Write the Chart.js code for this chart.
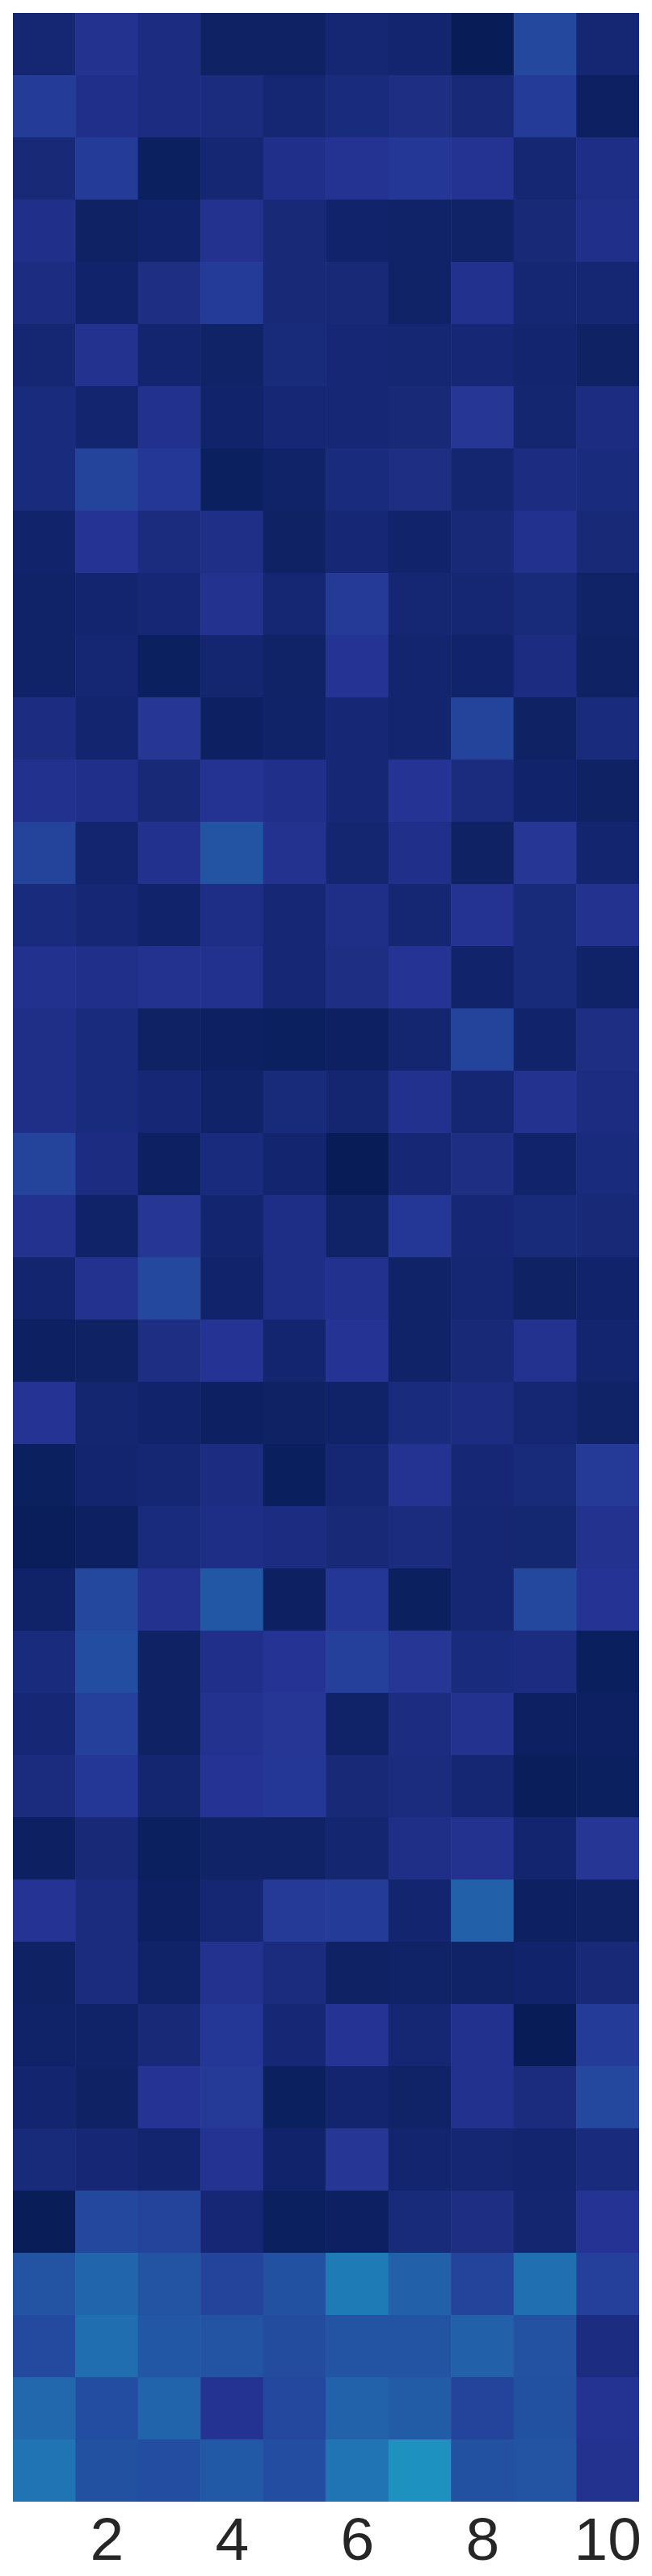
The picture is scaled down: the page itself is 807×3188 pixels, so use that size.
<!DOCTYPE html>
<html>
<head>
<meta charset="utf-8">
<title>Heatmap</title>
<script src="https://cdn.jsdelivr.net/npm/chart.js@4"></script>
<style>
html, body { margin: 0; padding: 0; background: #fff; }
canvas { display: block; }
</style>
</head>
<body>
<canvas id="heatmap" width="807" height="3188"></canvas>
<script>
const columns = ["1", "2", "3", "4", "5", "6", "7", "8", "9", "10"];
const tickLabels = ["2", "4", "6", "8", "10"];

const cells = [
    [5.5, 11.5, 8.5, 2.5, 2.5, 5.5, 4.5, 0, 18.5, 5.5],
    [15, 10.5, 8.5, 8, 5.5, 7.5, 9, 6.5, 15, 2],
    [6.5, 15, 1.5, 5.5, 10.5, 12, 13.5, 12, 5.5, 9.5],
    [10.5, 2.5, 4, 11.5, 6.5, 4, 3.5, 3, 6.5, 10.5],
    [8.5, 4, 9, 15, 6.5, 6.5, 3, 11, 5.5, 5.5],
    [5.5, 11.5, 4.5, 3, 7, 6, 5.5, 6, 4.5, 2.5],
    [7.5, 4.5, 11, 4, 6, 6, 6.5, 13, 5, 8.5],
    [7.5, 17, 13.5, 1.5, 3.5, 7.5, 9, 5, 8.5, 7.5],
    [4, 12.5, 8, 10, 2.5, 6, 4, 6.5, 11, 6.5],
    [3.5, 4.5, 6, 11.5, 5.5, 14, 5.5, 5.5, 7, 3],
    [3.5, 5.5, 1.5, 5, 3, 12.5, 4.5, 4, 8.5, 2.5],
    [8.5, 4.5, 13, 2, 3.5, 6, 4.5, 17, 2.5, 7.5],
    [11, 10.5, 6.5, 12, 10.5, 6, 12.5, 8, 4, 2.5],
    [17, 4.5, 11, 22, 11.5, 5, 10.5, 2.5, 13, 4.5],
    [7.5, 6, 4, 9.5, 6, 10, 5.5, 12, 7, 11.5],
    [11, 10.5, 11.5, 11, 6, 9, 12.5, 4, 7, 3.5],
    [10, 7.5, 2.5, 2, 1.5, 2, 5, 17, 4, 9],
    [10, 7.5, 6, 3.5, 7, 5, 11, 5.5, 11.5, 8.5],
    [17, 8.5, 2, 7.5, 4.5, 0, 6, 9, 4, 7.5],
    [11.5, 3.5, 13, 4.5, 9.5, 3, 13.5, 6, 7, 6.5],
    [4.5, 11.5, 18.5, 4, 9.5, 11, 3.5, 5.5, 2.5, 4],
    [2, 2.5, 9, 12.5, 4.5, 12.5, 3.5, 6.5, 11.5, 4.5],
    [12.5, 5, 4, 2, 2.5, 3.5, 7.5, 8.5, 5.5, 3],
    [1.5, 4.5, 5.5, 8.5, 1, 5.5, 12, 6, 7, 14],
    [0.5, 2, 7.5, 9.5, 8.5, 6.5, 8, 5.5, 5.3, 11.5],
    [3.5, 18.5, 11.5, 23, 2, 13.5, 1.5, 5.5, 18.5, 12.5],
    [7.5, 20, 2.5, 10.5, 12.5, 16, 13, 7.5, 8.5, 1],
    [6, 16, 2.5, 11.5, 13, 3.5, 8.5, 11.5, 2, 2],
    [8, 13.5, 5, 12.5, 13.5, 6.5, 8, 5.5, 0.5, 1.5],
    [2, 6.5, 1.5, 3, 3, 5, 10, 11.5, 4.5, 13],
    [12.5, 8, 2, 5.5, 14, 15, 4.5, 25.5, 2, 2.5],
    [2.5, 8, 3.5, 11.5, 8, 2.5, 3, 3, 4, 6.5],
    [3.5, 3.5, 6.5, 13.5, 6, 12.5, 5.5, 11, 0, 15],
    [4.5, 2.5, 12.5, 14, 1.5, 4.5, 3, 11, 8, 18.5],
    [7, 6, 4.5, 12, 4, 13, 4.5, 5.5, 4.5, 7.5],
    [0.3, 18.5, 17, 6, 1.5, 2, 7, 9, 5, 12.5],
    [22, 27, 22, 17, 21, 32, 25.5, 17, 29.5, 16],
    [19, 29, 23, 22, 19.5, 22, 22, 25.5, 21.5, 8.5],
    [27.5, 20, 26.5, 12, 18.5, 26, 24, 17, 21, 12],
    [30.5, 21, 20, 23.5, 20, 30.5, 37.5, 21, 22, 11.5]
];

const colorStops = [
    [0, 8, 29, 88],
    [12.5, 37, 52, 148],
    [25, 34, 94, 168],
    [37.5, 29, 145, 192],
    [50, 65, 182, 196]
];

function cellColor(v) {
    let i = 0;
    while (i < colorStops.length - 2 && v > colorStops[i + 1][0]) i++;
    const a = colorStops[i], b = colorStops[i + 1];
    const t = (v - a[0]) / (b[0] - a[0]);
    const mix = k => Math.round(a[k] + (b[k] - a[k]) * t);
    return `rgb(${mix(1)}, ${mix(2)}, ${mix(3)})`;
}

// every cell is one unit of a stacked bar, rows stack from the top down
const datasets = cells.map((row, r) => ({
    label: "row " + (r + 1),
    data: row.map(() => 1),
    backgroundColor: row.map(cellColor),
    borderWidth: 0,
    barPercentage: 1,
    categoryPercentage: 1.008
}));

new Chart(document.getElementById("heatmap").getContext("2d"), {
    type: "bar",
    data: { labels: columns, datasets: datasets },
    options: {
        responsive: false,
        animation: false,
        layout: { padding: { left: 16, right: 16, top: 16, bottom: 0 } },
        plugins: { legend: { display: false }, tooltip: { enabled: false } },
        scales: {
            x: {
                stacked: true,
                grid: { display: false, drawTicks: false },
                border: { display: false },
                afterFit: function (scale) {
                    scale.height = 92;
                    scale.paddingLeft = 0;
                    scale.paddingRight = 0;
                },
                ticks: {
                    autoSkip: false,
                    maxRotation: 0,
                    padding: 6,
                    color: "#262626",
                    font: { family: "'Liberation Sans', Arial, sans-serif", size: 75 },
                    callback: function (value) {
                        const label = this.getLabelForValue(value);
                        return tickLabels.includes(label) ? label : "";
                    }
                }
            },
            y: {
                display: false,
                stacked: true,
                reverse: true,
                min: 0,
                max: cells.length
            }
        }
    }
});
</script>
</body>
</html>
